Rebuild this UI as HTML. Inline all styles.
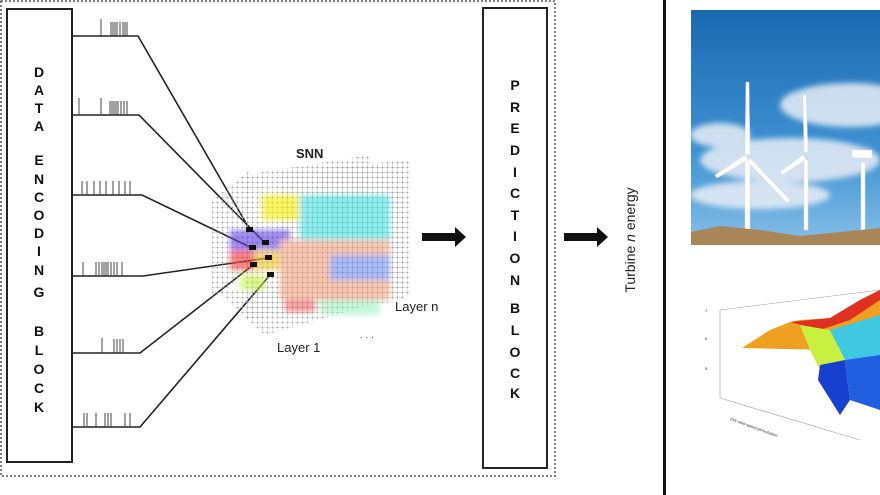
<!DOCTYPE html>
<html><head><meta charset="utf-8"><style>
html,body{margin:0;padding:0;background:#fff}
svg{display:block}
text{font-family:"Liberation Sans",Arial,sans-serif}
</style></head><body>
<svg width="880" height="495" viewBox="0 0 880 495" xmlns="http://www.w3.org/2000/svg">
<defs>
<pattern id="g" width="5" height="5" patternUnits="userSpaceOnUse"><path d="M0 2.5H5M2.5 0V5" stroke="#bbb" stroke-width="0.4"/><circle cx="2.5" cy="2.5" r="0.8" fill="#888"/></pattern>
<filter id="bl"><feGaussianBlur stdDeviation="3"/></filter>
<linearGradient id="sky" x1="0" y1="0" x2="0" y2="1"><stop offset="0" stop-color="#1a68b0"/><stop offset="0.6" stop-color="#3f92d2"/><stop offset="1" stop-color="#86bfe8"/></linearGradient>
</defs>
<rect x="1" y="1" width="554" height="475" fill="none" stroke="#555" stroke-width="1.5" stroke-dasharray="2,2"/>
<rect x="7" y="9" width="65" height="453" fill="#fff" stroke="#222" stroke-width="2"/>
<g font-size="14" font-weight="bold" text-anchor="middle" fill="#111">
<text x="39" y="77">D</text><text x="39" y="95">A</text><text x="39" y="113">T</text><text x="39" y="131">A</text>
<text x="39" y="165">E</text><text x="39" y="184">N</text><text x="39" y="202">C</text><text x="39" y="220">O</text><text x="39" y="238">D</text><text x="39" y="256">I</text><text x="39" y="275">N</text><text x="39" y="297">G</text>
<text x="39" y="336">B</text><text x="39" y="355">L</text><text x="39" y="374">O</text><text x="39" y="393">C</text><text x="39" y="412">K</text>
</g>
<g stroke="#222" stroke-width="1.6" fill="none">
<path d="M72 36H138L250 230"/>
<path d="M72 115H139L265 243"/>
<path d="M72 195H142L252 248"/>
<path d="M72 276H143L268 258"/>
<path d="M72 353H140L253 265"/>
<path d="M72 427H140L270 275"/>
</g>
<g stroke="#444" stroke-width="1">
<path d="M101 36v-17M111 36v-14M113 36v-14M115 36v-14M117 36v-14M120 36v-14M123 36v-14M125 36v-14M127 36v-14"/>
<path d="M79 115v-17M101 115v-17M110 115v-14M112 115v-14M114 115v-14M116 115v-14M118 115v-14M121 115v-14M124 115v-14M127 115v-14"/>
<path d="M82 195v-14M87 195v-14M94 195v-14M100 195v-14M106 195v-14M113 195v-14M119 195v-14M125 195v-14M130 195v-14"/>
<path d="M83 276v-14M96 276v-14M99 276v-14M102 276v-14M104 276v-14M106 276v-14M108 276v-14M111 276v-14M114 276v-14M117 276v-14M122 276v-14"/>
<path d="M102 353v-15M114 353v-14M117 353v-14M120 353v-14M123 353v-14"/>
<path d="M84 427v-14M87 427v-14M96 427v-14M105 427v-14M108 427v-14M111 427v-14M125 427v-14M130 427v-14"/>
</g>
<text x="296" y="158" font-size="13" font-weight="bold" fill="#222">SNN</text>
<g opacity="0.8">
<polygon points="212,200 250,170 250,270 212,300" fill="url(#g)"/>
<polygon points="245,175 370,155 370,305 245,320" fill="url(#g)"/>
<polygon points="280,172 405,162 405,300 280,318" fill="url(#g)"/>
<polygon points="320,168 410,160 410,295 320,308" fill="url(#g)"/>
<polygon points="215,290 330,285 370,305 265,335" fill="url(#g)"/>
</g>
<g filter="url(#bl)" opacity="0.6">
<rect x="262" y="195" width="55" height="25" fill="#f4f000"/>
<rect x="300" y="195" width="90" height="45" fill="#40e0e0"/>
<rect x="230" y="230" width="60" height="22" fill="#5a3ae0"/>
<rect x="230" y="250" width="25" height="20" fill="#f03030"/>
<rect x="255" y="250" width="25" height="20" fill="#f0c020"/>
<rect x="280" y="240" width="110" height="60" fill="#f0a080"/>
<rect x="240" y="275" width="25" height="15" fill="#c0f040"/>
<rect x="285" y="300" width="30" height="12" fill="#f06060"/>
<rect x="320" y="300" width="60" height="15" fill="#a0f0c0"/>
<rect x="330" y="255" width="60" height="25" fill="#7090f0"/>
</g>
<g fill="#111">
<rect x="246" y="227" width="7" height="5"/><rect x="262" y="240" width="7" height="5"/>
<rect x="249" y="245" width="7" height="5"/><rect x="265" y="255" width="7" height="5"/>
<rect x="250" y="262" width="7" height="5"/><rect x="267" y="272" width="7" height="5"/>
</g>
<text x="395" y="311" font-size="13" fill="#222">Layer n</text>
<text x="277" y="352" font-size="13" fill="#222">Layer 1</text>
<text x="360" y="338" font-size="10" fill="#555">. . .</text>
<polygon points="422,233 455,233 455,227 466,237 455,247 455,241 422,241" fill="#111"/>
<polygon points="564,233 597,233 597,227 608,237 597,247 597,241 564,241" fill="#111"/>
<rect x="483" y="8" width="64" height="460" fill="#fff" stroke="#222" stroke-width="2"/>
<g font-size="14" font-weight="bold" text-anchor="middle" fill="#111">
<text x="515" y="90">P</text><text x="515" y="112">R</text><text x="515" y="133">E</text><text x="515" y="155">D</text><text x="515" y="177">I</text><text x="515" y="198">C</text><text x="515" y="220">T</text><text x="515" y="241">I</text><text x="515" y="263">O</text><text x="515" y="285">N</text>
<text x="515" y="313">B</text><text x="515" y="335">L</text><text x="515" y="357">O</text><text x="515" y="378">C</text><text x="515" y="398">K</text>
</g>
<text transform="translate(635,240) rotate(-90)" font-size="14" text-anchor="middle" fill="#222">Turbine <tspan font-style="italic">n</tspan>  energy</text>
<rect x="663" y="0" width="3" height="495" fill="#111"/>
<rect x="691" y="10" width="189" height="235" fill="url(#sky)"/>
<g fill="#e8eef5" opacity="0.85" filter="url(#bl)">
<ellipse cx="850" cy="105" rx="70" ry="22"/>
<ellipse cx="790" cy="160" rx="90" ry="22"/>
<ellipse cx="720" cy="135" rx="30" ry="12"/>
<ellipse cx="760" cy="195" rx="70" ry="14"/>
</g>
<g fill="#fff" stroke="#ddd" stroke-width="0.5">
<rect x="745" y="160" width="5" height="70"/><polygon points="746,82 749,82 750,155 745,155"/><polygon points="745,155 715,175 717,178 748,160"/><polygon points="750,158 790,200 787,203 748,162"/>
<rect x="804" y="160" width="4" height="70"/><polygon points="803,95 806,95 808,152 804,152"/><polygon points="803,155 780,172 782,175 806,160"/>
<rect x="861" y="162" width="4" height="68"/><rect x="852" y="150" width="20" height="8"/>
</g>
<polygon points="691,232 720,226 760,230 800,236 840,232 880,228 880,245 691,245" fill="#a88658"/>
<g stroke="#999" stroke-width="0.6" fill="none">
<path d="M720 310V398M720 398L860 440M720 310L880 290"/>
</g>
<polygon points="742,348 770,330 790,322 800,320 830,318 860,300 880,290 880,330 850,340 830,350" fill="#f0a020"/>
<polygon points="790,322 830,318 860,300 880,290 880,300 850,320 820,330" fill="#e03020"/>
<polygon points="800,325 830,330 845,360 820,370 810,350" fill="#c8f040"/>
<polygon points="830,330 880,315 880,360 845,360" fill="#40c8e0"/>
<polygon points="820,365 845,360 850,400 840,415 818,380" fill="#1840d0"/>
<polygon points="845,360 880,355 880,410 850,400" fill="#2060e0"/>
<g font-size="4" fill="#333"><text x="705" y="312">7</text><text x="705" y="340">6</text><text x="705" y="370">5</text><text x="730" y="420" transform="rotate(20 730 420)">EW wind speed perturbation</text></g>
</svg>
</body></html>
